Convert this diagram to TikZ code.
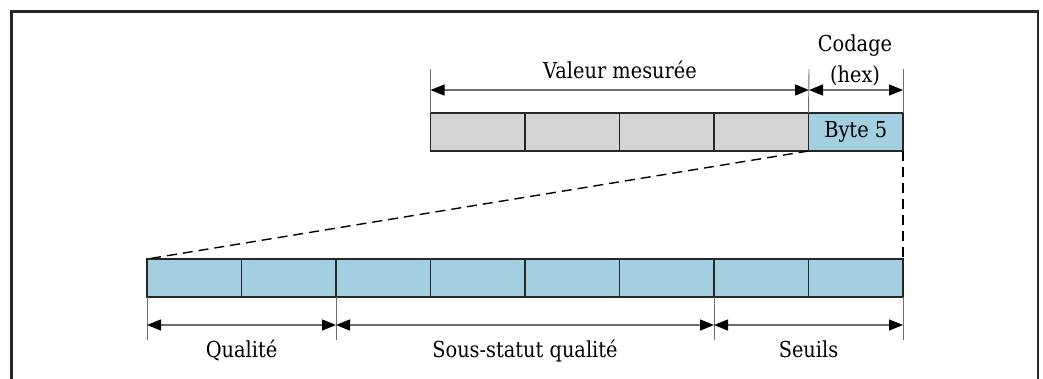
\documentclass[tikz,border=0pt]{standalone}
\usepackage{fontspec}
\setmainfont{DejaVu Serif}[FakeStretch=0.88]
\usetikzlibrary{arrows.meta}
\definecolor{cellblue}{HTML}{A4CFE1}
\definecolor{cellgray}{HTML}{D4D4D4}
\definecolor{dimgray}{HTML}{6E6E6E}
\begin{document}
\begin{tikzpicture}[x=1pt,y=-1pt,
  cell/.style={minimum width=94.5pt,minimum height=38pt,inner sep=0pt,outer sep=0pt},
  gcell/.style={cell,fill=cellgray},
  bcell/.style={cell,fill=cellblue},
  cellborder/.style={draw=black!85,line width=1.8pt},
  lbl/.style={font=\fontsize{22}{24}\selectfont,inner sep=0pt,anchor=base},
  extline/.style={draw=dimgray,line width=0.9pt},
  tip/.style={},
  dimarrow/.style={draw=dimgray,line width=1.4pt,{Triangle[length=14pt,width=11pt,fill=black,color=black]}-{Triangle[length=14pt,width=11pt,fill=black,color=black]}},
  dashline/.style={draw=black,line width=1.4pt,dash pattern=on 10pt off 6pt},
  frameline/.style={draw=black!85,line width=2.4pt}]
\useasboundingbox (0,0) rectangle (1043,378);
% frame
\draw[frameline] (11.5,390) -- (11.5,11.5) -- (1038,11.5) -- (1038,390);
% top bar
\foreach \i in {0,...,3}{
  \node[gcell] (t\i) at ({430.5+47.25+94.5*\i},132) {};
}
\node[bcell] (t4) at ({430.5+47.25+94.5*4},132) {};
% bottom bar
\foreach \i in {0,...,7}{
  \node[bcell] (b\i) at ({147+47.25+94.5*\i},278) {};
}
\foreach \i in {0,...,4}{
  \draw[cellborder] (t\i.south west) rectangle (t\i.north east);
}
\foreach \i in {0,...,7}{
  \draw[cellborder] (b\i.south west) rectangle (b\i.north east);
}
\node[lbl,anchor=center] (byte) at (t4.center) {Byte 5};
% dashed zoom lines
\draw[dashline] (t4.south west) -- (b0.north west);
\draw[dashline] (t4.south east) -- (b7.north east);
% top extension lines
\coordinate (e1) at (430.5,69);
\coordinate (e2) at (809,69);
\coordinate (e3) at (903,69);
\draw[extline] (e1) -- (t0.north west);
\draw[extline] (e2) -- (t4.north west);
\draw[extline] (e3) -- (t4.north east);
\coordinate (a1) at (430.5,90);
\coordinate (a2) at (809,90);
\coordinate (a3) at (903,90);
\draw[dimarrow] (a1) -- (a2);
\draw[dimarrow] (a2) -- (a3);
\node[lbl] (vm) at (620,78) {Valeur mesurée};
\node[lbl] (cod) at (855,51) {Codage};
\node[lbl] (hex) at (855,82) {(hex)};
% bottom extension lines
\coordinate (f1) at (147,340);
\coordinate (f2) at (336,340);
\coordinate (f3) at (714,340);
\coordinate (f4) at (903,340);
\draw[extline] (b0.south west) -- (f1);
\draw[extline] (b2.south west) -- (f2);
\draw[extline] (b6.south west) -- (f3);
\draw[extline] (b7.south east) -- (f4);
\coordinate (c1) at (147,325);
\coordinate (c2) at (336,325);
\coordinate (c3) at (714,325);
\coordinate (c4) at (903,325);
\draw[dimarrow] (c1) -- (c2);
\draw[dimarrow] (c2) -- (c3);
\draw[dimarrow] (c3) -- (c4);
\node[lbl] (q) at (241.5,357) {Qualité};
\node[lbl] (ssq) at (525,357) {Sous-statut qualité};
\node[lbl] (s) at (808.5,357) {Seuils};
\end{tikzpicture}
\end{document}
